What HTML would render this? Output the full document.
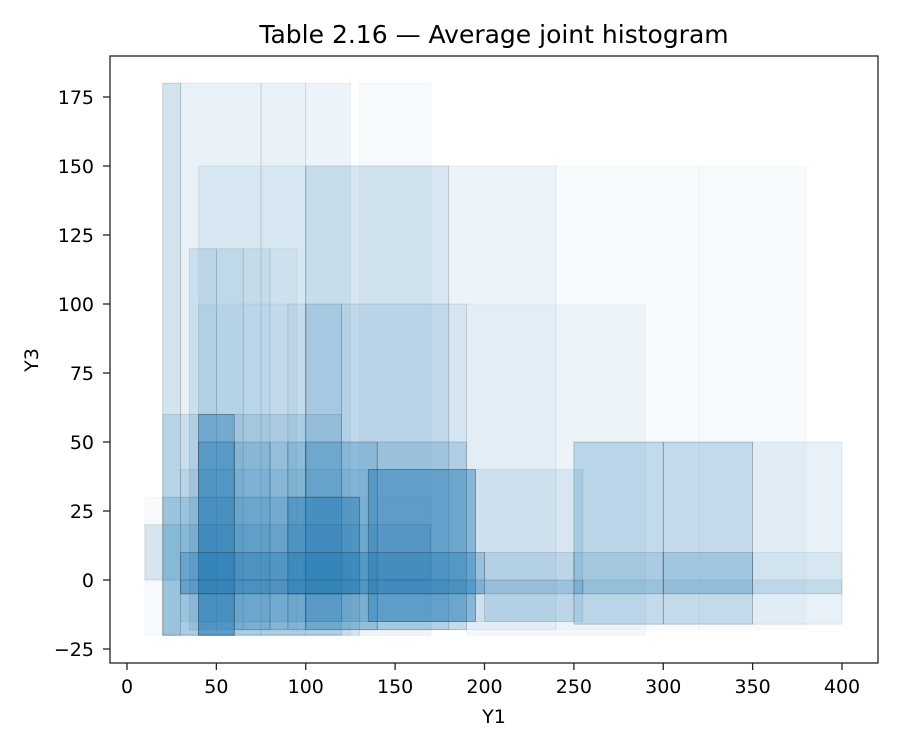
<!DOCTYPE html>
<html><head><meta charset="utf-8"><style>
body{margin:0;background:#fff;font-family:"Liberation Sans","DejaVu Sans",sans-serif}
svg text{font-family:"DejaVu Sans","Liberation Sans",sans-serif;fill:#000}
</style></head><body>
<svg id="chart" width="900" height="750">
<rect x="0" y="0" width="900" height="750" fill="#fff"/>
<g id="bars"></g>
<rect x="110" y="56" width="768" height="607" fill="none" stroke="#222" stroke-width="1.3"/>
<g id="xt"></g>
<g id="yt"></g>
<text x="494" y="43" font-size="25" text-anchor="middle">Table 2.16 — Average joint histogram</text>
<text x="494" y="723" font-size="19" text-anchor="middle">Y1</text>
<text x="38" y="360" font-size="19" text-anchor="middle" transform="rotate(-90 38 360)">Y3</text>
</svg>
<script>
const binX0=[20,30,75,100,130, 40,100,180,240,320, 35,50,65,80, 40,90,100,120,190, 20,40, 40,60,80,90,100,140,250,300,350, 30,135, 10,20,90, 10, 30,200,250,300,350, 30,255];
const binX1=[30,75,100,125,170, 100,180,240,320,380, 50,65,80,95, 90,100,120,190,290, 120,60, 60,80,90,100,140,190,300,350,400, 255,195, 170,130,130, 170, 200,250,300,350,400, 255,400];
const binY0=[-20,-20,-20,-20,-20, -18,-18,-18,-18,-18, -18,-18,-18,-18, -15,-15,-15,-15,-20, -20,-20, -20,-18,-18,-18,-18,-18,-16,-16,-16, -15,-15, -20,-20,-5, 0, -5,-15,-5,-5,-5, -5,-5];
const binY1=[180,180,180,180,180, 150,150,150,150,150, 120,120,120,120, 100,100,100,100,100, 60,60, 50,50,50,50,50,50,50,50,50, 40,40, 30,30,30, 20, 10,10,10,10,10, 0,0];
const density=[.2,.1,.1,.08,.04, .08,.18,.08,.03,.03, .15,.12,.1,.06, .06,.1,.2,.12,.05, .15,.35, .3,.2,.15,.2,.3,.2,.25,.25,.1, .1,.4, .04,.15,.3, .15, .3,.15,.15,.2,.08, .2,.1];
const xTicks=[0,50,100,150,200,250,300,350,400];
const yTicks=[-25,0,25,50,75,100,125,150,175];
const sx=v=>127+v*1.7875, sy=v=>580-v*2.76;
const NS='http://www.w3.org/2000/svg';
const g=document.getElementById('bars');
for(let i=0;i<binX0.length;i++){
 const r=document.createElementNS(NS,'rect');
 r.setAttribute('x',sx(binX0[i]));r.setAttribute('y',sy(binY1[i]));
 r.setAttribute('width',sx(binX1[i])-sx(binX0[i]));r.setAttribute('height',sy(binY0[i])-sy(binY1[i]));
 r.setAttribute('fill','#1f77b4');r.setAttribute('fill-opacity',density[i]);
 r.setAttribute('stroke','#000');r.setAttribute('stroke-opacity',density[i]*0.9);r.setAttribute('stroke-width','0.8');
 
 
 g.appendChild(r);
}
const xt=document.getElementById('xt');
xTicks.forEach(v=>{
 const l=document.createElementNS(NS,'line');l.setAttribute('x1',sx(v));l.setAttribute('x2',sx(v));l.setAttribute('y1',663);l.setAttribute('y2',670);l.setAttribute('stroke','#222');l.setAttribute('stroke-width','1.3');
 
 
 xt.appendChild(l);
 const t=document.createElementNS(NS,'text');t.setAttribute('x',sx(v));t.setAttribute('y',693);t.setAttribute('font-size','19');t.setAttribute('text-anchor','middle');t.textContent=v;
 
 
 xt.appendChild(t);
});
const yt=document.getElementById('yt');
yTicks.forEach(v=>{
 const l=document.createElementNS(NS,'line');l.setAttribute('x1',103);l.setAttribute('x2',110);l.setAttribute('y1',sy(v));l.setAttribute('y2',sy(v));l.setAttribute('stroke','#222');l.setAttribute('stroke-width','1.3');
 
 
 yt.appendChild(l);
 const t=document.createElementNS(NS,'text');t.setAttribute('x',94);t.setAttribute('y',sy(v)+7);t.setAttribute('font-size','19');t.setAttribute('text-anchor','end');t.textContent=v<0?'−'+(-v):v;
 
 
 yt.appendChild(t);
});
</script>
</body></html>
